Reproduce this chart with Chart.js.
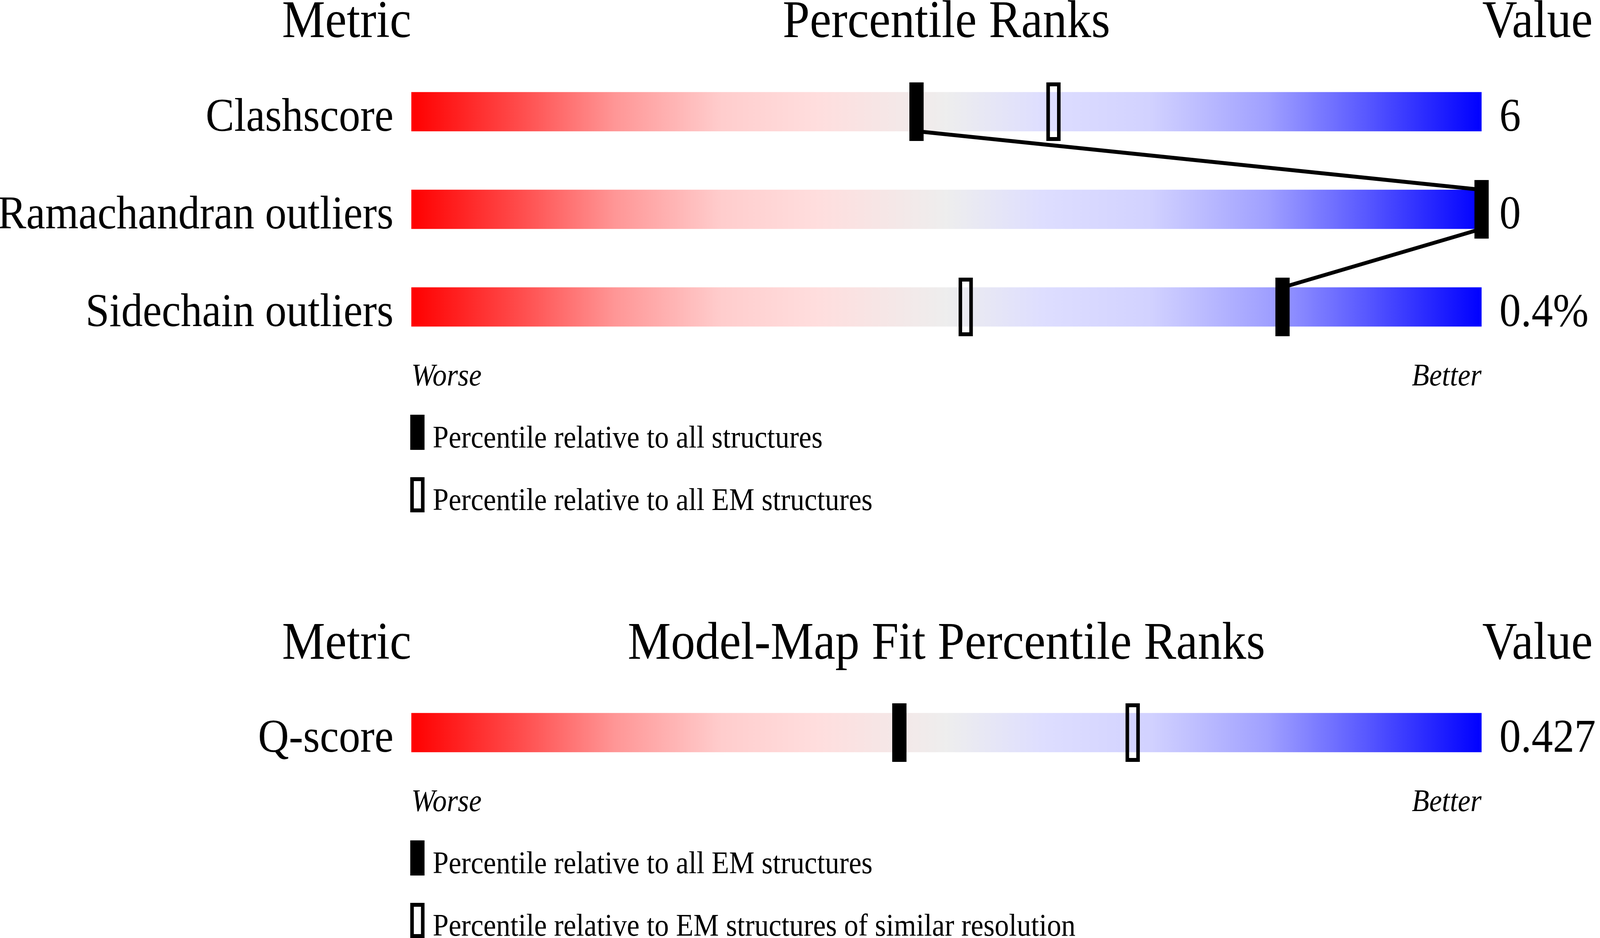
<!DOCTYPE html>
<html>
<head>
<meta charset="utf-8">
<script src="https://cdn.jsdelivr.net/npm/chart.js@4.4.0/dist/chart.umd.min.js"></script>
<style>
html, body { margin: 0; background: #fff; overflow: hidden; }
#page { position: absolute; left: 0; top: 0; width: 4485px; height: 2402px; overflow: hidden; background: #fff;
        transform-origin: 0 0; font-family: 'Liberation Serif', 'Times New Roman', serif; color: #000; }
canvas { position: absolute; left: 0; }
.t { position: absolute; white-space: nowrap; line-height: 1; z-index: 2; }
.hd { font-size: 136px; }
.sm { font-size: 80px; }
.it { font-style: italic; }
.mid { transform: translateX(-50%); }
.key { position: absolute; width: 40px; height: 90px; box-sizing: border-box; background: #000; z-index: 2; }
.key.open { background: #fff; border: 10px solid #000; }
</style>
</head>
<body>
<div id="page">
<canvas id="topChart" width="4485" height="1000" style="top:0px"></canvas>
<canvas id="fitChart" width="4485" height="520" style="top:1600px"></canvas>

<div class="t hd" style="right:3332px; top:-19px">Metric</div>
<div class="t hd mid" style="left:2653px; top:-19px">Percentile Ranks</div>
<div class="t hd" style="left:4155px; top:-19px">Value</div>
<div class="t sm it" style="left:1153px; top:920px">Worse</div>
<div class="t sm it" style="right:332px; top:920px">Better</div>
<div class="key" style="left:1150px; top:1062px"></div>
<div class="t sm" style="left:1213px; top:1079px">Percentile relative to all structures</div>
<div class="key open" style="left:1150px; top:1222px"></div>
<div class="t sm" style="left:1213px; top:1239px">Percentile relative to all EM structures</div>

<div class="t hd" style="right:3332px; top:1573px">Metric</div>
<div class="t hd mid" style="left:2653px; top:1573px">Model-Map Fit Percentile Ranks</div>
<div class="t hd" style="left:4155px; top:1573px">Value</div>
<div class="t sm it" style="left:1153px; top:2010px">Worse</div>
<div class="t sm it" style="right:332px; top:2010px">Better</div>
<div class="key" style="left:1150px; top:2152px"></div>
<div class="t sm" style="left:1213px; top:2169px">Percentile relative to all EM structures</div>
<div class="key open" style="left:1150px; top:2312px"></div>
<div class="t sm" style="left:1213px; top:2329px">Percentile relative to EM structures of similar resolution</div>
</div>

<script>
var topMetrics = ['Clashscore', 'Ramachandran outliers', 'Sidechain outliers'];
var topValues = ['6', '0', '0.4%'];
var topAllPct = [47.2, 100, 81.4];
var topEmPct = [60.0, 100, 51.8];

var fitMetrics = ['Q-score'];
var fitValues = ['0.427'];
var fitAllPct = [45.6];
var fitSimPct = [67.4];

var rankRange = [0, 100];

var gradientStops = [
    [0, 'rgb(255,0,0)'], [0.1, 'rgb(255,75,75)'], [0.19, 'rgb(255,150,150)'],
    [0.29, 'rgb(255,205,205)'], [0.38, 'rgb(255,222,222)'], [0.5, 'rgb(238,238,238)'],
    [0.59, 'rgb(222,222,255)'], [0.69, 'rgb(210,210,255)'], [0.8, 'rgb(160,160,255)'],
    [0.89, 'rgb(90,90,255)'], [1, 'rgb(0,0,255)']
];
var BAR_H = 100;

// the window is narrower than the picture, so squeeze the page to fit it
var page = document.getElementById('page');
page.style.transform = 'scale(' + (window.innerWidth / 4485) + ',' + (window.innerHeight / 2402) + ')';

function markerCanvas(open) {
    var c = document.createElement('canvas');
    c.width = 40;
    c.height = 150;
    var g = c.getContext('2d');
    g.fillStyle = '#000';
    g.fillRect(0, 0, 40, 150);
    if (open) g.clearRect(10, 10, 20, 130);
    return c;
}

function barGradient(ctx) {
    var chart = ctx.chart;
    var x = chart.scales.x;
    if (!chart.chartArea || !x) return '#eee';
    var grad = chart.ctx.createLinearGradient(x.getPixelForValue(rankRange[0]), 0, x.getPixelForValue(rankRange[1]), 0);
    gradientStops.forEach(function(s) { grad.addColorStop(s[0], s[1]); });
    return grad;
}

// line joining the filled markers, from bottom of one bar to top of the next
var connectPlugin = {
    id: 'connect',
    afterDatasetDraw: function(chart, args, opts) {
        if (!opts.values || args.meta.type !== 'bar') return;
        var x = chart.scales.x, y = chart.scales.y, c = chart.ctx;
        c.save();
        c.strokeStyle = '#000';
        c.lineWidth = 10;
        c.beginPath();
        for (var i = 0; i < opts.values.length - 1; i++) {
            c.moveTo(x.getPixelForValue(opts.values[i]), y.getPixelForValue(i) + BAR_H / 2);
            c.lineTo(x.getPixelForValue(opts.values[i + 1]), y.getPixelForValue(i + 1) - BAR_H / 2);
        }
        c.stroke();
        c.restore();
    }
};

// blank first line pushes the label a little below the row centre
function lowered(v) {
    return ['', this.getLabelForValue(v)];
}

function makeChart(id, metrics, values, filledPct, openPct, padTop, padBottom, connect) {
    var tickFont = { family: "'Liberation Serif', 'Times New Roman', serif", size: 120, lineHeight: '34px' };
    return new Chart(document.getElementById(id), {
        type: 'bar',
        data: {
            labels: metrics,
            datasets: [{
                data: metrics.map(function() { return rankRange; }),
                backgroundColor: barGradient,
                borderWidth: 0,
                barThickness: BAR_H,
                yAxisID: 'y',
                order: 3
            }, {
                type: 'scatter',
                data: openPct.map(function(p, i) { return { x: p, y: metrics[i] }; }),
                pointStyle: markerCanvas(true),
                pointRadius: 5,
                xAxisID: 'x',
                yAxisID: 'y',
                clip: false,
                order: 2
            }, {
                type: 'scatter',
                data: filledPct.map(function(p, i) { return { x: p, y: metrics[i] }; }),
                pointStyle: markerCanvas(false),
                pointRadius: 5,
                xAxisID: 'x',
                yAxisID: 'y',
                clip: false,
                order: 1
            }]
        },
        options: {
            indexAxis: 'y',
            responsive: false,
            animation: false,
            devicePixelRatio: 1,
            events: [],
            layout: { padding: { top: padTop, bottom: padBottom, left: 0, right: 0 } },
            plugins: {
                legend: { display: false },
                tooltip: { enabled: false },
                connect: { values: connect ? filledPct : null }
            },
            scales: {
                x: { type: 'linear', min: rankRange[0], max: rankRange[1], display: false },
                y: {
                    type: 'category',
                    position: 'left',
                    offset: true,
                    grid: { display: false, drawTicks: false },
                    border: { display: false },
                    ticks: { font: tickFont, color: '#000', padding: 50, autoSkip: false, crossAlign: 'near', callback: lowered },
                    afterFit: function(s) { s.width = 1153; }
                },
                y2: {
                    type: 'category',
                    position: 'right',
                    labels: values,
                    offset: true,
                    grid: { display: false, drawTicks: false },
                    border: { display: false },
                    ticks: { font: tickFont, color: '#000', padding: 50, autoSkip: false, crossAlign: 'near', callback: lowered },
                    afterFit: function(s) { s.width = 4485 - 4153; }
                }
            }
        },
        plugins: [connectPlugin]
    });
}

makeChart('topChart', topMetrics, topValues, topAllPct, topEmPct, 161, 89, true);
makeChart('fitChart', fitMetrics, fitValues, fitAllPct, fitSimPct, 151, 119, false);
</script>
</body>
</html>
